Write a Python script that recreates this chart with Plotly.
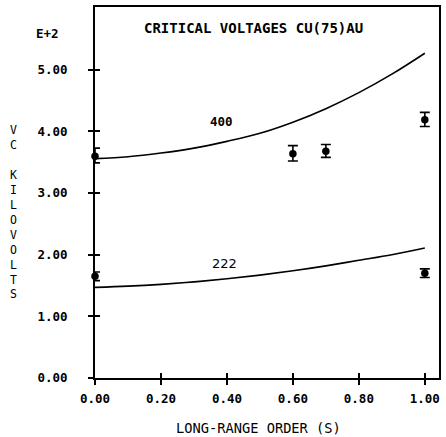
import plotly.graph_objects as go

# Theory curves (values in units of E+2 kilovolts)
s_curve = [0.0, 0.1, 0.2, 0.3, 0.4, 0.5, 0.6, 0.7, 0.8, 0.9, 1.0]
vc_400 = [3.56, 3.59, 3.65, 3.73, 3.84, 3.97, 4.15, 4.37, 4.63, 4.93, 5.27]
vc_222 = [1.47, 1.49, 1.52, 1.56, 1.61, 1.67, 1.74, 1.82, 1.91, 2.00, 2.11]

# Measured points with error bars
s_meas_400 = [0.0, 0.6, 0.7, 1.0]
vc_meas_400 = [3.60, 3.64, 3.68, 4.19]
err_plus_400 = [0.13, 0.13, 0.11, 0.12]
err_minus_400 = [0.11, 0.12, 0.10, 0.11]

s_meas_222 = [0.0, 1.0]
vc_meas_222 = [1.65, 1.70]
err_plus_222 = [0.07, 0.07]
err_minus_222 = [0.07, 0.07]

x_ticks = [0.0, 0.2, 0.4, 0.6, 0.8, 1.0]
x_tick_text = ["0.00", "0.20", "0.40", "0.60", "0.80", "1.00"]
y_ticks = [0, 1, 2, 3, 4, 5]
y_tick_text = ["0.00", "1.00", "2.00", "3.00", "4.00", "5.00"]

title_text = "CRITICAL VOLTAGES CU(75)AU"
x_title = "LONG-RANGE ORDER (S)"
y_title = "V<br>C<br> <br>K<br>I<br>L<br>O<br>V<br>O<br>L<br>T<br>S"

MONO = "DejaVu Sans Mono"
XR = [0, 1.043]
YR = [0, 6.02]

fig = go.Figure()
fig.add_trace(go.Scatter(x=s_curve, y=vc_400, mode="lines", line_shape="spline",
                         line=dict(color="black", width=1.6), showlegend=False))
fig.add_trace(go.Scatter(x=s_curve, y=vc_222, mode="lines", line_shape="spline",
                         line=dict(color="black", width=1.6), showlegend=False))
for xs, ys, ep, em in [(s_meas_400, vc_meas_400, err_plus_400, err_minus_400),
                       (s_meas_222, vc_meas_222, err_plus_222, err_minus_222)]:
    fig.add_trace(go.Scatter(
        x=xs, y=ys, mode="markers",
        marker=dict(color="black", size=7.5),
        error_y=dict(type="data", array=ep, arrayminus=em, color="black",
                     thickness=1.6, width=5),
        cliponaxis=False, showlegend=False))
# dummy trace so the overlay axes (inner tick halves) are drawn
fig.add_trace(go.Scatter(x=[], y=[], xaxis="x2", yaxis="y2", showlegend=False))

tickfont = dict(family=MONO, size=12.5, color="black", weight="bold")


def ann(text, x, y, size, weight="normal", family=MONO, ref="paper"):
    return dict(text=text, x=x, y=y, xref=ref if ref == "paper" else "x",
                yref=ref if ref == "paper" else "y", showarrow=False,
                xanchor="center", yanchor="middle",
                font=dict(family=family, size=size, color="black", weight=weight))


fig.update_layout(
    width=446, height=437,
    margin=dict(l=95, r=5, t=6, b=59),
    paper_bgcolor="white", plot_bgcolor="white",
    xaxis=dict(range=XR, tickvals=x_ticks, ticktext=x_tick_text,
               ticks="outside", ticklen=5, tickwidth=1.6, tickcolor="black",
               showline=True, linecolor="black", linewidth=2, mirror=True,
               showgrid=False, zeroline=False, tickfont=tickfont,
               ticklabelstandoff=3),
    yaxis=dict(range=YR, tickvals=y_ticks, ticktext=y_tick_text,
               ticks="outside", ticklen=5, tickwidth=1.6, tickcolor="black",
               showline=True, linecolor="black", linewidth=2, mirror=True,
               showgrid=False, zeroline=False, tickfont=tickfont,
               ticklabelstandoff=18),
    xaxis2=dict(range=XR, tickvals=x_ticks, overlaying="x", anchor="y",
                side="bottom", ticks="inside", ticklen=5, tickwidth=1.6,
                tickcolor="black", showticklabels=False, showgrid=False,
                zeroline=False, showline=False),
    yaxis2=dict(range=YR, tickvals=y_ticks, overlaying="y", anchor="x",
                side="left", ticks="inside", ticklen=5, tickwidth=1.6,
                tickcolor="black", showticklabels=False, showgrid=False,
                zeroline=False, showline=False),
    annotations=[
        ann(title_text, 0.462, 0.944, 14, "bold"),
        ann("E+2", -0.137, 0.929, 12.5, "bold"),
        ann(x_title, 0.475, -0.134, 13.7),
        ann(y_title, -0.237, 0.4476, 11.5),
        ann("400", 0.384, 4.16, 12.5, "bold", ref="data"),
        ann("222", 0.394, 1.86, 13, family="DejaVu Sans", ref="data"),
    ],
)

fig.write_html("out.html")
